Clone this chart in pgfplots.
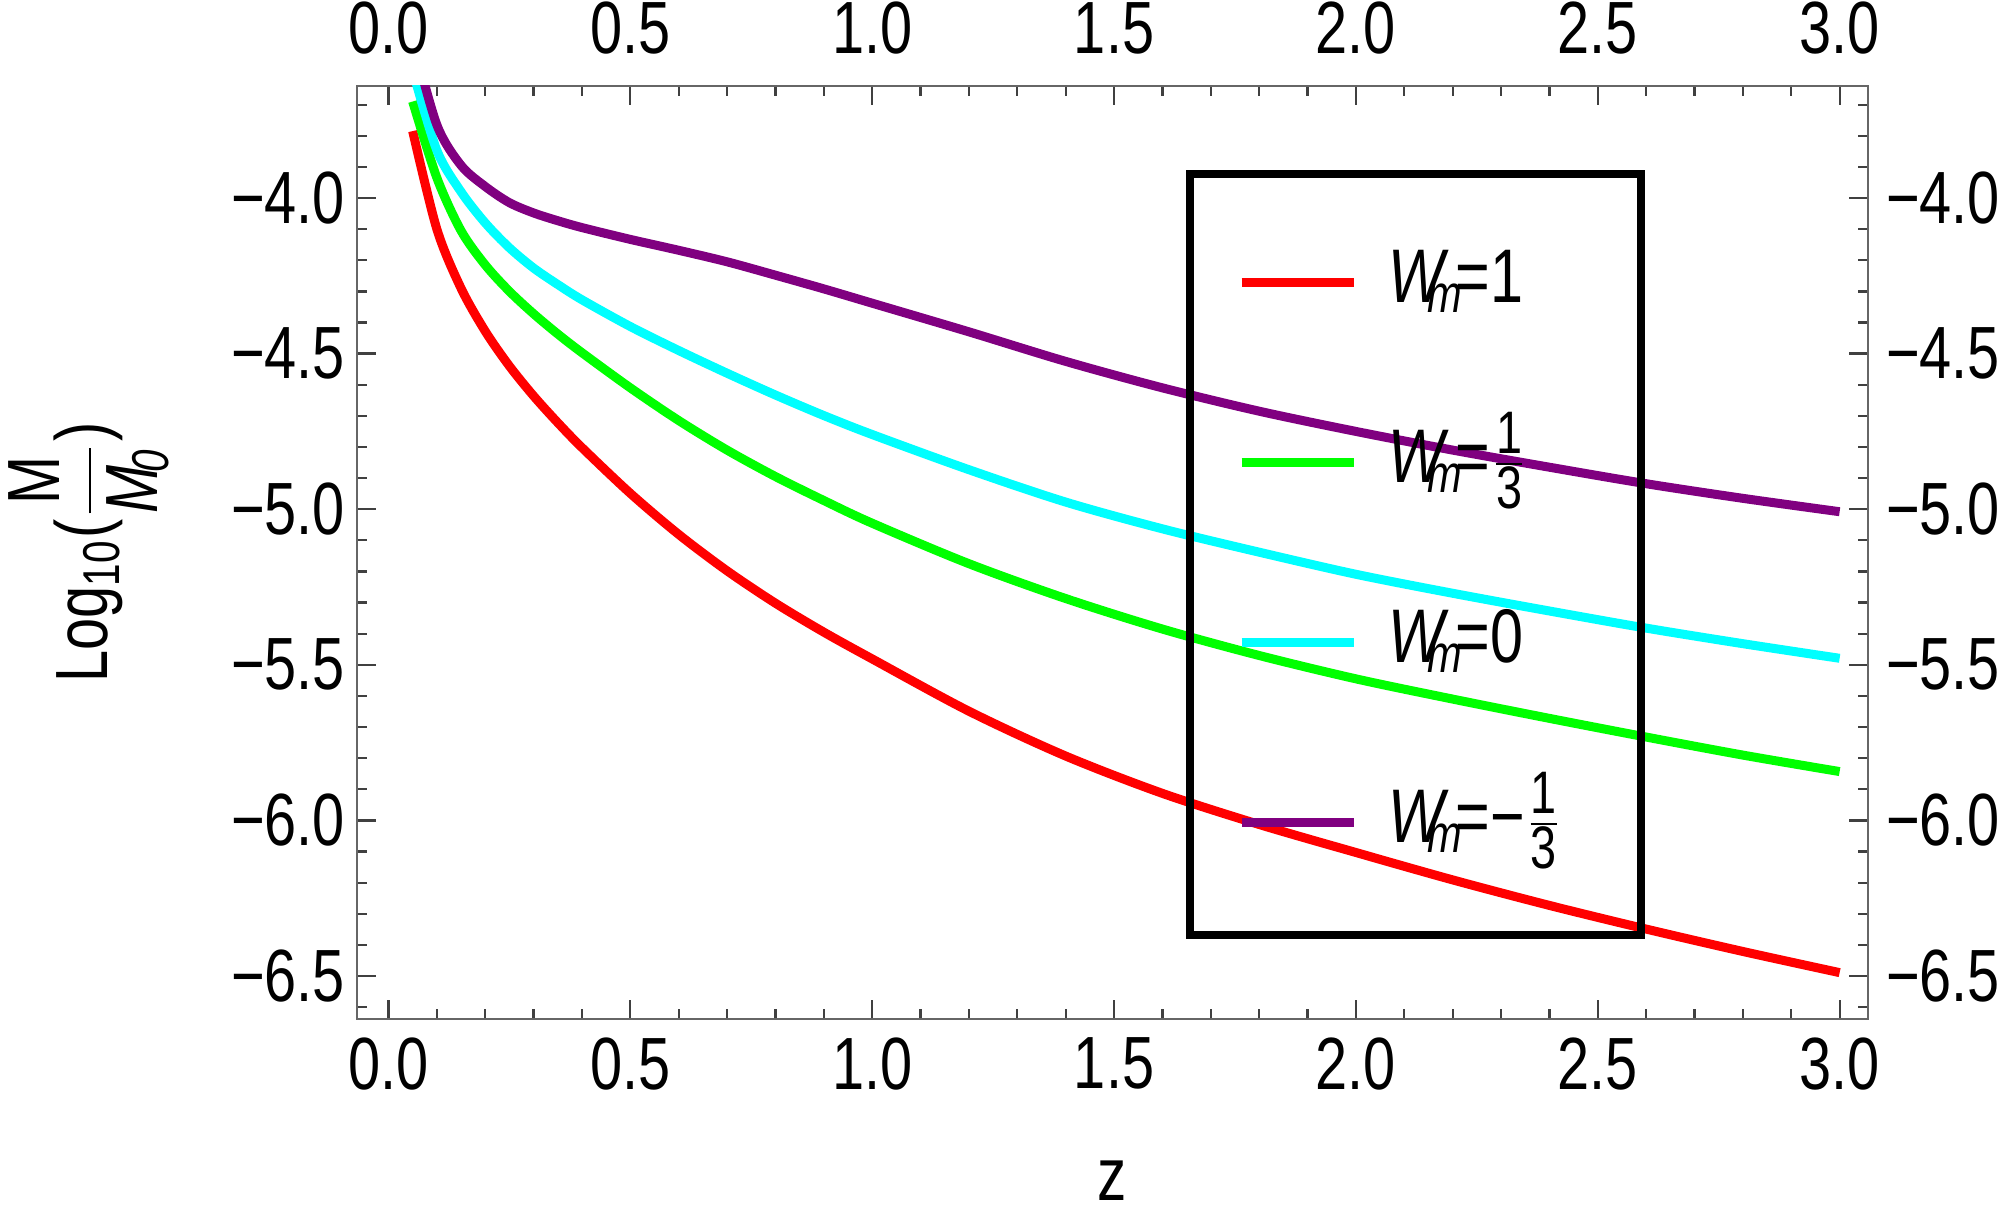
\documentclass[border=0pt]{standalone}
\usepackage{fontspec}
\setmainfont{Liberation Sans}[FakeStretch=0.78]
\usepackage{pgfplots}
\pgfplotsset{compat=1.18}

\definecolor{cRed}{RGB}{255,0,0}
\definecolor{cGreen}{RGB}{0,255,0}
\definecolor{cCyan}{RGB}{0,255,255}
\definecolor{cPurple}{RGB}{128,0,128}

\newcommand{\fr}[2]{$\frac{\mbox{\fontsize{12}{12}\selectfont #1}}{\mbox{\fontsize{12}{12}\selectfont #2}}$}
\newcommand{\Wm}{\textit{W}\kern-0.28em\textsubscript{\textit{m}}\kern-0.12em}

\pgfplotsset{
  commonframe/.style={
    scale only axis, width=302.2pt, height=186.6pt,
    xmin=-0.0651, xmax=3.0587, ymin=-6.638, ymax=-3.640,
    xtick={0,0.5,1,1.5,2,2.5,3},
    xticklabels={0.0,0.5,1.0,1.5,2.0,2.5,3.0},
    ytick={-6.5,-6,-5.5,-5,-4.5,-4},
    yticklabels={−6.5,−6.0,−5.5,−5.0,−4.5,−4.0},
    minor xtick={0.1,0.2,0.3,0.4,0.6,0.7,0.8,0.9,1.1,1.2,1.3,1.4,1.6,1.7,1.8,1.9,2.1,2.2,2.3,2.4,2.6,2.7,2.8,2.9},
    minor ytick={-6.6,-6.4,-6.3,-6.2,-6.1,-5.9,-5.8,-5.7,-5.6,-5.4,-5.3,-5.2,-5.1,-4.9,-4.8,-4.7,-4.6,-4.4,-4.3,-4.2,-4.1,-3.9,-3.8,-3.7},
    tick align=inside, tick pos=both,
    major tick length=3.8pt, minor tick length=2.1pt,
    tick label style={font=\fontsize{14.8}{16}\selectfont, inner sep=0pt},
  }
}

\begin{document}
\begin{tikzpicture}
\begin{axis}[
  commonframe,
  tick style={black!75, line width=0.45pt},
  axis line style={black!60, line width=0.5pt},
  xticklabel pos=lower, yticklabel pos=left,
  xticklabel shift=3.6pt, yticklabel shift=2.2pt,
  xlabel={z},
  ylabel={Log\textsubscript{10}($\displaystyle\frac{\mbox{M}}{\mbox{\itshape M\kern-0.1em\textsubscript{0}}}$)},
  xlabel style={at={(axis description cs:0.5,-0.194)}, anchor=base, font=\fontsize{15}{17}\selectfont, inner sep=0pt},
  ylabel style={at={(axis description cs:-0.1648,0.5)}, anchor=base, font=\fontsize{14.8}{17}\selectfont, inner sep=0pt},
  legend cell align=left,
  legend image code/.code={\draw[#1, line width=1.8pt] (0pt,0.4pt) -- (22.4pt,0.4pt);},
  legend style={at={(axis cs:1.649,-3.910)}, anchor=north west, draw=black, line width=1.6pt, fill=none,
    inner xsep=9.4pt, inner ysep=4.1pt, row sep=0pt, column sep=6pt,
    font=\fontsize{15.2}{16}\selectfont,
    nodes={inner sep=0pt, text height=21.5pt, text depth=14.5pt, text width=41.2pt}},
]
\addplot[color=cRed, line width=1.8pt, smooth, tension=0.5] coordinates {
(0.05,-3.785)(0.10,-4.10)(0.15,-4.29)(0.20,-4.428)(0.25,-4.540)(0.30,-4.636)(0.35,-4.722)(0.40,-4.802)(0.50,-4.949)(0.60,-5.081)(0.70,-5.198)(0.80,-5.302)(0.90,-5.395)(1.00,-5.481)(1.20,-5.649)(1.40,-5.793)(1.60,-5.913)(1.80,-6.013)(2.00,-6.103)(2.20,-6.191)(2.40,-6.273)(2.60,-6.349)(2.80,-6.421)(3.00,-6.489)
};
\addlegendentry{\Wm=1}
\addplot[color=cGreen, line width=1.8pt, smooth, tension=0.5] coordinates {
(0.05,-3.69)(0.10,-3.935)(0.15,-4.105)(0.20,-4.215)(0.25,-4.30)(0.30,-4.372)(0.35,-4.437)(0.40,-4.497)(0.50,-4.61)(0.60,-4.715)(0.70,-4.81)(0.80,-4.895)(0.90,-4.972)(1.00,-5.045)(1.20,-5.175)(1.40,-5.287)(1.60,-5.385)(1.80,-5.47)(2.00,-5.545)(2.20,-5.61)(2.40,-5.672)(2.60,-5.732)(2.80,-5.79)(3.00,-5.843)
};
\addlegendentry{\Wm=\fr{1}{3}}
\addplot[color=cCyan, line width=1.8pt, smooth, tension=0.5] coordinates {
(0.05,-3.59)(0.10,-3.847)(0.15,-3.98)(0.20,-4.08)(0.25,-4.16)(0.30,-4.225)(0.35,-4.278)(0.40,-4.327)(0.50,-4.413)(0.60,-4.49)(0.70,-4.563)(0.80,-4.633)(0.90,-4.699)(1.00,-4.760)(1.20,-4.873)(1.40,-4.977)(1.60,-5.063)(1.80,-5.138)(2.00,-5.209)(2.20,-5.27)(2.40,-5.327)(2.60,-5.382)(2.80,-5.432)(3.00,-5.479)
};
\addlegendentry{\Wm=0}
\addplot[color=cPurple, line width=1.8pt, smooth, tension=0.5] coordinates {
(0.05,-3.49)(0.10,-3.765)(0.15,-3.895)(0.20,-3.963)(0.25,-4.015)(0.30,-4.048)(0.35,-4.073)(0.40,-4.095)(0.50,-4.133)(0.60,-4.168)(0.70,-4.205)(0.80,-4.248)(0.90,-4.292)(1.00,-4.338)(1.20,-4.43)(1.40,-4.525)(1.60,-4.61)(1.80,-4.685)(2.00,-4.75)(2.20,-4.81)(2.40,-4.865)(2.60,-4.918)(2.80,-4.965)(3.00,-5.008)
};
\addlegendentry{\Wm=−\fr{1}{3}}
\end{axis}
\begin{axis}[
  commonframe,
  tick style={draw=none},
  axis line style={draw=none},
  xticklabel pos=upper, yticklabel pos=right,
  xticklabel shift=6.2pt, yticklabel shift=3.4pt,
]
\end{axis}
\pgfresetboundingbox
\path ([shift={(-71.4pt,-39.2pt)}]current axis.south west) rectangle ([shift={(26.4pt,17.2pt)}]current axis.north east);
\end{tikzpicture}
\end{document}
